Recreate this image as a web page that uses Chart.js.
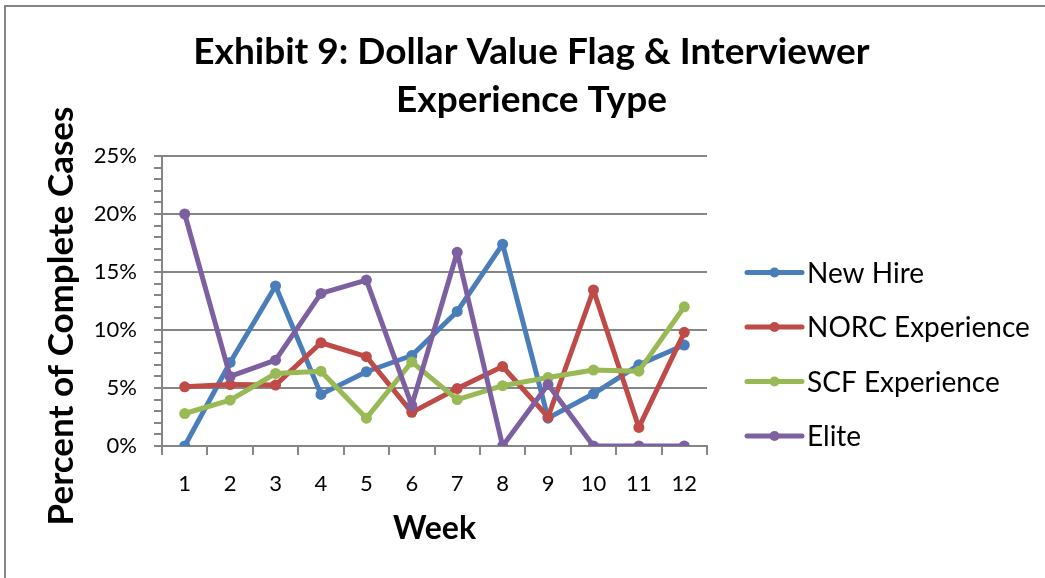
<!DOCTYPE html>
<html><head><meta charset="utf-8">
<script src="https://cdn.jsdelivr.net/npm/chart.js@4/dist/chart.umd.min.js"></script>
<style>
html,body{margin:0;padding:0;background:#fff;}
#wrap{position:relative;width:1045px;height:578px;overflow:hidden;background:#fff;}
#frame{position:absolute;left:4px;top:5px;width:1100px;height:700px;border-left:2px solid #868686;border-top:2px solid #868686;}
canvas{position:absolute;left:0;top:0;}
</style></head><body>
<div id="wrap"><div id="frame"></div><canvas id="c" width="1045" height="578"></canvas></div>
<script>
const titleLines = ['Exhibit 9: Dollar Value Flag & Interviewer', 'Experience Type'];
const xTitle = 'Week';
const yTitle = 'Percent of Complete Cases';
const weeks = ['1','2','3','4','5','6','7','8','9','10','11','12'];
const seriesNames = ['New Hire', 'NORC Experience', 'SCF Experience', 'Elite'];
const seriesColors = ['#4a7ebb', '#be4b48', '#98b954', '#7d60a0'];
const newHire = [0, 7.2, 13.8, 4.45, 6.4, 7.8, 11.6, 17.4, 2.4, 4.5, 7.0, 8.7];
const norcExperience = [5.1, 5.3, 5.25, 8.9, 7.7, 2.9, 4.95, 6.85, 2.5, 13.45, 1.6, 9.8];
const scfExperience = [2.8, 3.95, 6.25, 6.45, 2.4, 7.25, 4.0, 5.2, 5.9, 6.55, 6.45, 12.0];
const elite = [20, 6.0, 7.4, 13.15, 14.3, 3.5, 16.7, 0, 5.3, 0, 0, 0];
const yMin = 0, yMax = 25, yMajor = 5, yMinor = 1;

const seriesValues = [newHire, norcExperience, scfExperience, elite];
const FONT = 'Lato';
const GRID = '#868686';
const PAD_LEFT = 18;

const datasets = seriesNames.map((name, i) => ({
  label: name,
  data: seriesValues[i],
  borderColor: seriesColors[i],
  backgroundColor: seriesColors[i],
  pointBackgroundColor: seriesColors[i],
  pointBorderColor: seriesColors[i],
  pointRadius: 5.5,
  pointBorderWidth: 0,
  borderWidth: 5,
  borderJoinStyle: 'round',
  borderCapStyle: 'round',
  tension: 0,
  fill: false,
  order: seriesNames.length - i
}));

const overlay = {
  id: 'overlay',
  afterDraw(chart) {
    const ctx = chart.ctx;
    ctx.save();
    ctx.fillStyle = '#000';
    ctx.font = 'bold 35px ' + FONT;
    ctx.textAlign = 'center';
    ctx.textBaseline = 'middle';
    ctx.translate(62, 316);
    ctx.rotate(-Math.PI / 2);
    ctx.fillText(yTitle, 0, 0);
    ctx.restore();
    ctx.save();
    const x0 = 747, lineLen = 55, yStart = 272.5, step = 54.5;
    chart.data.datasets.forEach((ds, i) => {
      const y = yStart + i * step;
      ctx.strokeStyle = ds.borderColor;
      ctx.lineWidth = 5;
      ctx.lineCap = 'round';
      ctx.beginPath(); ctx.moveTo(x0, y); ctx.lineTo(x0 + lineLen, y); ctx.stroke();
      ctx.fillStyle = ds.borderColor;
      ctx.beginPath(); ctx.arc(x0 + lineLen / 2, y, 5, 0, Math.PI * 2); ctx.fill();
      ctx.fillStyle = '#000';
      ctx.font = '28px ' + FONT;
      ctx.textAlign = 'left';
      ctx.textBaseline = 'middle';
      ctx.fillText(ds.label, x0 + lineLen + 5, y + 1);
    });
    ctx.restore();
  }
};

new Chart(document.getElementById('c'), {
  type: 'line',
  data: { labels: weeks, datasets },
  plugins: [overlay],
  options: {
    responsive: false,
    animation: false,
    events: [],
    layout: { padding: { left: PAD_LEFT, right: 0, top: 0, bottom: 0 } },
    plugins: {
      legend: { display: false },
      tooltip: { enabled: false },
      title: {
        display: true,
        text: titleLines,
        color: '#000',
        font: { family: FONT, size: 37, weight: 'bold', lineHeight: 48 / 37 },
        padding: { top: 28, bottom: 32 }
      }
    },
    scales: {
      x: {
        offset: true,
        grid: { display: true, drawOnChartArea: false, offset: true, color: GRID, lineWidth: 2, tickLength: 9 },
        border: { display: true, color: GRID, width: 2 },
        ticks: { color: '#000', font: { family: FONT, size: 22 }, padding: 16, maxRotation: 0 },
        title: { display: true, text: xTitle, color: '#000', font: { family: FONT, size: 32, weight: 'bold', lineHeight: 1.2 }, padding: { top: 0, bottom: 30 } },
        afterFit(scale) { scale.height = 132; }
      },
      y: {
        min: yMin, max: yMax,
        ticks: {
          stepSize: yMinor,
          color: '#000',
          font: { family: FONT, size: 22 },
          padding: 17,
          autoSkip: false,
          callback: (v) => (v % yMajor === 0 ? v + '%' : '')
        },
        grid: {
          color: (c) => (c.tick && c.tick.value % yMajor === 0 ? GRID : 'rgba(0,0,0,0)'),
          tickColor: GRID,
          lineWidth: 2,
          tickLength: 8
        },
        border: { display: true, color: GRID, width: 2 },
        afterFit(scale) { scale.width = 162 - PAD_LEFT; }
      },
      legendSpace: {
        type: 'linear',
        position: 'right',
        display: true,
        grid: { display: false, drawOnChartArea: false },
        border: { display: false },
        ticks: { display: false },
        afterFit(scale) { scale.width = 1045 - 707; }
      }
    }
  }
});
</script>
</body></html>
